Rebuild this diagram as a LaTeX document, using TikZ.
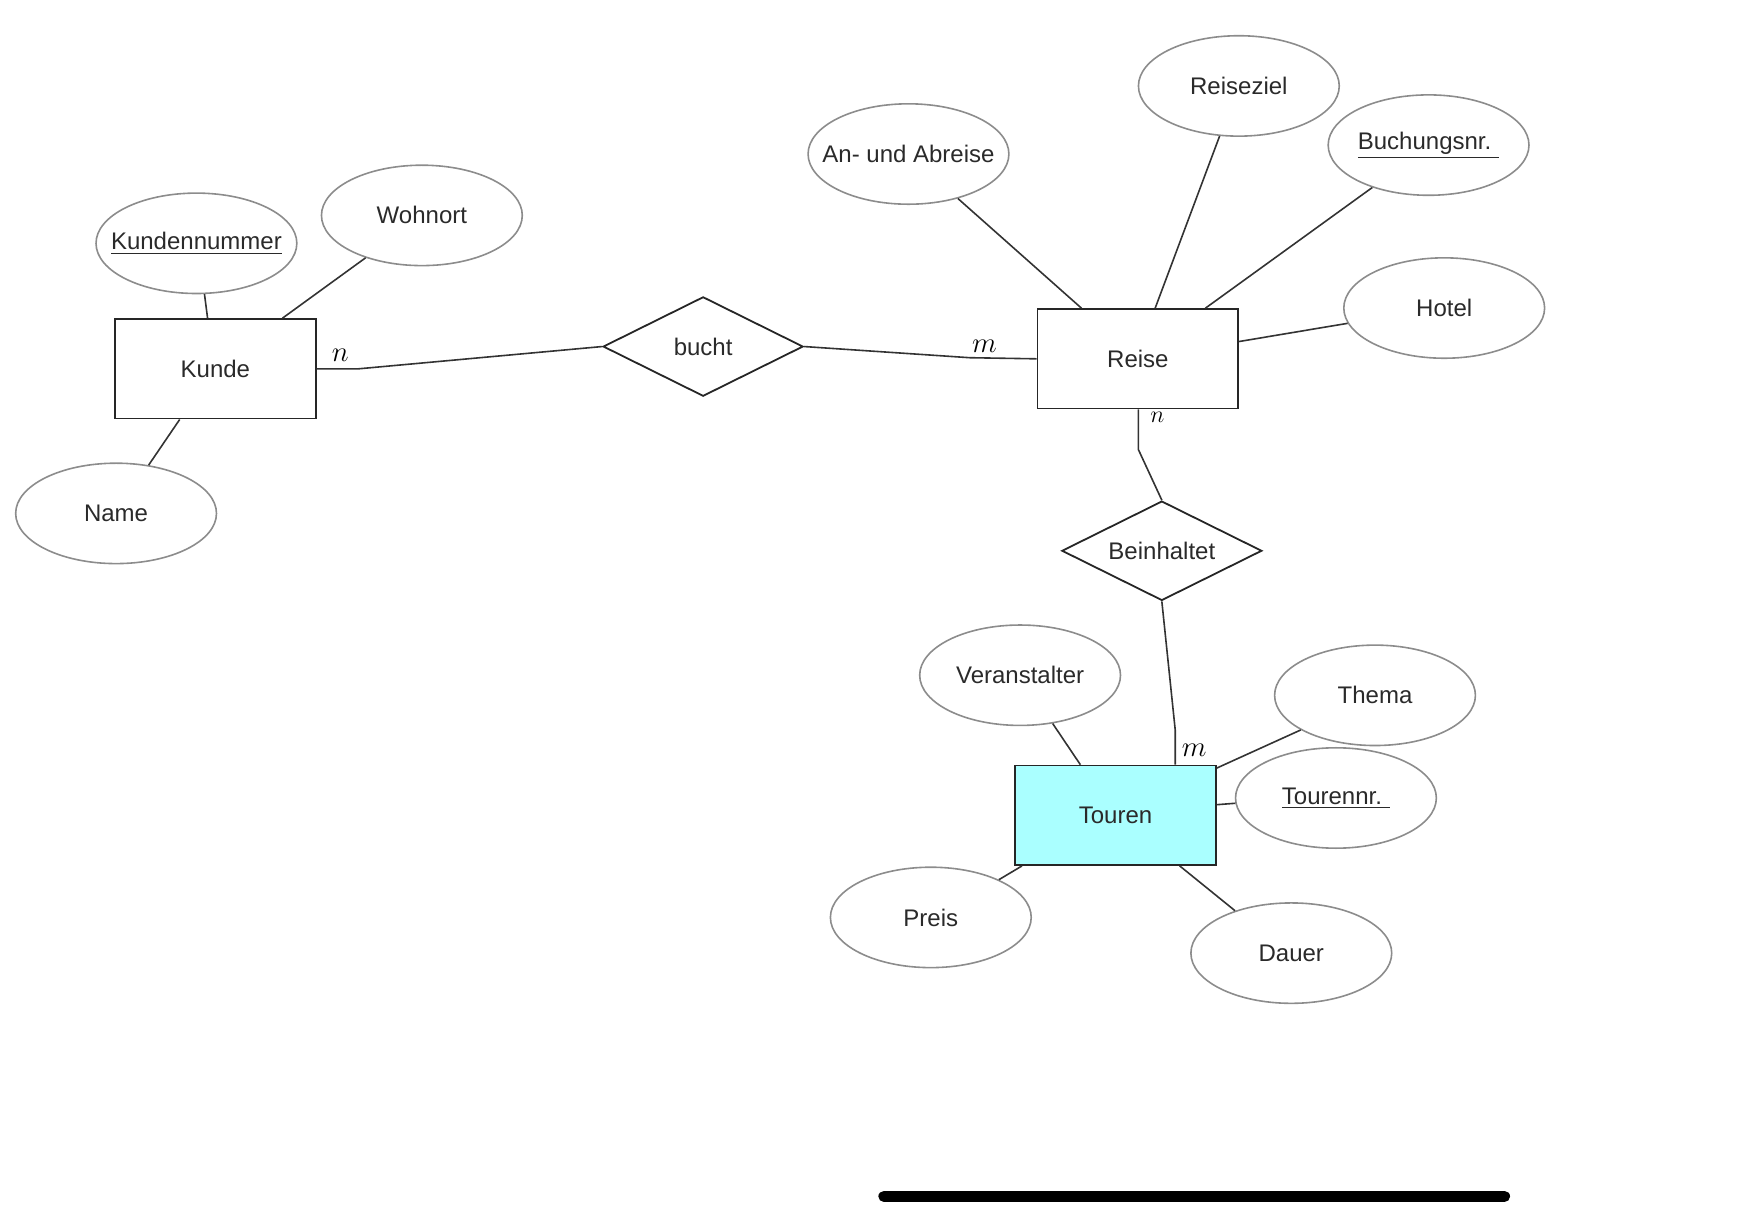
\documentclass[tikz,border=0pt]{standalone}
\usepackage{fontspec}
\setmainfont{Liberation Sans}
\usetikzlibrary{shapes.geometric,calc}
\definecolor{attrline}{HTML}{8C8C8C}
\definecolor{edge}{HTML}{333333}
\definecolor{txt}{HTML}{2A2A2A}
\definecolor{tourfill}{HTML}{AAFFFF}
\begin{document}
\begin{tikzpicture}[x=0.558pt,y=-0.558pt,
  attr/.style={ellipse,draw=attrline,line width=0.8pt,minimum width=100.4pt,minimum height=50.2pt,inner xsep=-9pt,inner ysep=0pt,text=txt,font=\fontsize{12}{14}\selectfont},
  entity/.style={rectangle,draw=black!85,line width=0.9pt,minimum width=100.4pt,minimum height=49.7pt,inner sep=0pt,text=txt,font=\fontsize{12}{14}\selectfont},
  rel/.style={diamond,aspect=2,draw=black!85,line width=0.9pt,minimum width=100pt,minimum height=49.7pt,inner sep=0pt,text=txt,font=\fontsize{12}{14}\selectfont},
  conn/.style={draw=edge,line width=0.8pt},
  card/.style={inner sep=0pt,font=\Large\itshape}]
\path[use as bounding box] (0,0) rectangle (1568,1091);
% Kunde
\node[entity] (kunde) at (193,330.5) {Kunde};
\node[attr] (kn) at (176,218) {\underline{Kundennummer}};
\node[attr] (wohnort) at (378,193) {Wohnort};
\node[attr] (name) at (104,460) {Name};
\draw[conn] (kn.-81) -- ($(kunde.north)+(-7,0)$);
\draw[conn] (wohnort.-143) -- ($(kunde.north)+(60,0)$);
\draw[conn] (name.56) -- ($(kunde.south)+(-32,0)$);
% bucht
\node[rel] (bucht) at (630,310.5) {bucht};
% Reise
\node[entity] (reise) at (1019.5,321.5) {Reise};
\node[attr] (an) at (814,138) {An- und Abreise};
\node[attr] (ziel) at (1110,77) {Reiseziel};
\node[attr] (buch) at (1280,130) {\underline{Buchungsnr.\,\,}};
\node[attr] (hotel) at (1294,276) {Hotel};
\draw[conn] (an.-42) -- ($(reise.north)+(-50.5,0)$);
\draw[conn] (ziel.-111) -- ($(reise.north)+(15.5,0)$);
\draw[conn] (buch.-143) -- ($(reise.north)+(60.5,0)$);
\draw[conn] (hotel.-171) -- ($(reise.east)+(0,-15.5)$);
% Kunde - bucht - Reise
\draw[conn] (kunde.east) -- ++(37,0) -- (bucht.west);
\draw[conn] (bucht.east) -- ($(reise.west)+(-60,-1)$) -- (reise.west);
\node[card] (c1) at (305,318) {$n$};
\node[card] (c2) at (882,310) {$m$};
% Beinhaltet
\node[rel] (beinh) at (1041,493.5) {Beinhaltet};
\draw[conn] ($(reise.south)+(0.5,0)$) -- ++(0,36) -- (beinh.north);
\node[card,font=\large] (c3) at (1037,374) {$n$};
% Touren
\node[entity,fill=tourfill] (touren) at (999.5,730.5) {Touren};
\draw[conn] (beinh.south) -- ($(touren.north)+(53.5,-31)$) -- ($(touren.north)+(53.5,0)$);
\node[card] (c4) at (1070,672) {$m$};
\node[attr] (veran) at (914,605) {Veranstalter};
\node[attr] (thema) at (1232,623) {Thema};
\node[attr] (tnr) at (1197,715) {\underline{Tourennr.\,\,}};
\node[attr] (preis) at (834,822) {Preis};
\node[attr] (dauer) at (1157,854) {Dauer};
\draw[conn] (veran.-56) -- ($(touren.north)+(-31.5,0)$);
\draw[conn] (thema.-155) -- ($(touren.north east)+(0,3)$);
\draw[conn] (tnr.183) -- ($(touren.east)+(0,-9.5)$);
\draw[conn] (preis.29) -- ($(touren.south west)+(7,0)$);
\draw[conn] (dauer.143) -- ($(touren.south)+(57.5,0)$);
% home indicator bar
\coordinate (barL) at (792,1072);
\coordinate (barR) at (1348,1072);
\draw[line width=5.6pt,line cap=round,black] (barL) -- (barR);
\end{tikzpicture}
\end{document}
